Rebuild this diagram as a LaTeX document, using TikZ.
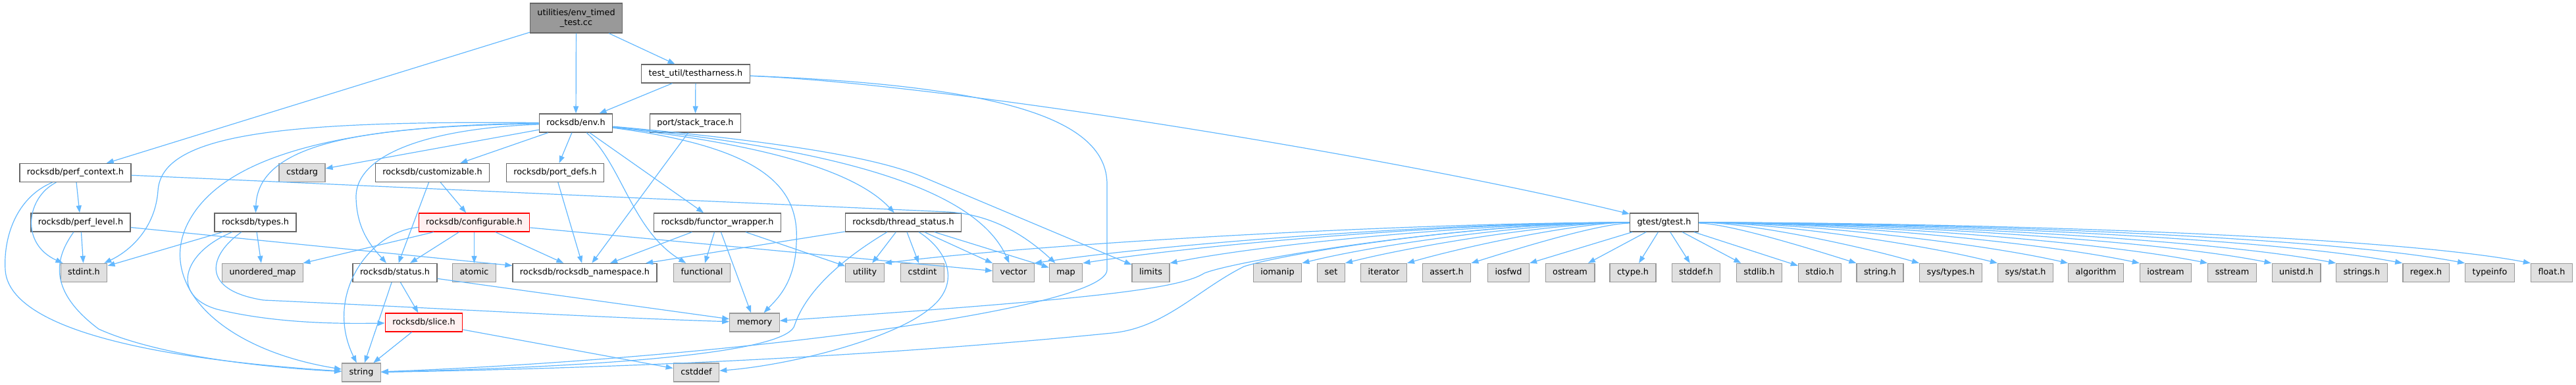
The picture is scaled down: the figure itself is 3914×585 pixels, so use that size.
\documentclass[tikz,border=0pt]{standalone}
\usepackage{fontspec}
\setmainfont{DejaVu Sans}
\usepackage{tikz}
\usetikzlibrary{arrows.meta}
\definecolor{colorEdge}{HTML}{63B8FF}
\definecolor{colorLeaf}{HTML}{E0E0E0}
\definecolor{colorLeafBorder}{HTML}{999999}
\definecolor{colorFileBorder}{HTML}{666666}
\definecolor{colorRoot}{HTML}{999999}
\definecolor{colorTrunc}{HTML}{FFF0F0}
\definecolor{colorTruncBorder}{HTML}{FF0000}
\tikzset{
  file/.style={draw=colorFileBorder, fill=white, line width=1.3pt, inner xsep=11pt, inner ysep=0pt, minimum height=28pt, text height=9.5pt, text depth=3pt},
  leaf/.style={file, draw=colorLeafBorder, fill=colorLeaf},
  trunc/.style={file, draw=colorTruncBorder, fill=colorTrunc},
  rootfile/.style={draw=colorFileBorder, fill=colorRoot, line width=1.3pt, inner xsep=11pt, minimum height=45pt, align=center},
  inc/.style={->, draw=colorEdge, line width=1.2pt}
}

\begin{document}
\begin{tikzpicture}[x=1pt, y=-1pt, >={Triangle[length=11pt,width=8pt]}, every node/.style={font=\fontsize{12.8}{15}\selectfont}]
\useasboundingbox (0,0) rectangle (3914,585);
\node[rootfile] (root) at (875.5,27.5) {utilities/env\_timed\\\_test.cc};
\node[file] (testh) at (1057,112) {test\_util/testharness.h};
\node[file] (envh) at (875,187) {rocksdb/env.h};
\node[file] (stack) at (1056.5,187) {port/stack\_trace.h};
\node[file] (perfctx) at (114.5,262.5) {rocksdb/perf\_context.h};
\node[leaf] (cstdarg) at (459,262.5) {cstdarg};
\node[file] (custom) at (657,262.5) {rocksdb/customizable.h};
\node[file] (portdefs) at (843.5,262.5) {rocksdb/port\_defs.h};
\node[file] (perflvl) at (122.5,338) {rocksdb/perf\_level.h};
\node[file] (types) at (388,338) {rocksdb/types.h};
\node[trunc] (config) at (720.5,338) {rocksdb/configurable.h};
\node[file] (functor) at (1090,338) {rocksdb/functor\_wrapper.h};
\node[file] (thread) at (1372.5,338) {rocksdb/thread\_status.h};
\node[file] (gtest) at (2528.5,338) {gtest/gtest.h};
\node[leaf] (stdint) at (127.5,414.5) {stdint.h};
\node[leaf] (umap) at (399,414.5) {unordered\_map};
\node[file] (status) at (600,414.5) {rocksdb/status.h};
\node[leaf] (atomic) at (720.5,414.5) {atomic};
\node[file] (nsp) at (888.5,414.5) {rocksdb/rocksdb\_namespace.h};
\node[leaf] (functional) at (1066.5,414.5) {functional};
\node[leaf] (utility) at (1314,414.5) {utility};
\node[leaf] (cstdint) at (1401.5,414.5) {cstdint};
\node[leaf] (vector) at (1540,414.5) {vector};
\node[leaf] (map) at (1619.5,414.5) {map};
\node[leaf] (limits) at (1748.5,414.5) {limits};
\node[leaf] (iomanip) at (1941,414.5) {iomanip};
\node[leaf] (set) at (2022.5,414.5) {set};
\node[leaf] (iterator) at (2102.5,414.5) {iterator};
\node[leaf] (asserth) at (2198,414.5) {assert.h};
\node[leaf] (iosfwd) at (2292,414.5) {iosfwd};
\node[leaf] (ostream) at (2385.5,414.5) {ostream};
\node[leaf] (ctypeh) at (2481,414.5) {ctype.h};
\node[leaf] (stddefh) at (2577,414.5) {stddef.h};
\node[leaf] (stdlibh) at (2673,414.5) {stdlib.h};
\node[leaf] (stdioh) at (2765,414.5) {stdio.h};
\node[leaf] (stringh) at (2856.5,414.5) {string.h};
\node[leaf] (systypes) at (2964,414.5) {sys/types.h};
\node[leaf] (sysstat) at (3077.5,414.5) {sys/stat.h};
\node[leaf] (algorithm) at (3184.5,414.5) {algorithm};
\node[leaf] (iostream) at (3290.5,414.5) {iostream};
\node[leaf] (sstream) at (3391.5,414.5) {sstream};
\node[leaf] (unistdh) at (3489,414.5) {unistd.h};
\node[leaf] (stringsh) at (3588.5,414.5) {strings.h};
\node[leaf] (regexh) at (3686,414.5) {regex.h};
\node[leaf] (typeinfo) at (3783,414.5) {typeinfo};
\node[leaf] (floath) at (3877,414.5) {float.h};
\node[trunc] (slice) at (644,490) {rocksdb/slice.h};
\node[leaf] (memory) at (1146.5,490) {memory};
\node[leaf] (string) at (549,566) {string};
\node[leaf] (cstddef) at (1058,566) {cstddef};

\draw[inc] (root) -- (perfctx);
\draw[inc] (root) -- (envh);
\draw[inc] (root) -- (testh);
\draw[inc] (testh) -- (envh);
\draw[inc] (testh) -- (stack);
\draw[inc] (testh) .. controls (1450,128) and (2150,245) .. (gtest);
\draw[inc] (testh) .. controls (1520,130) and (1682,180) .. (1682,280) -- (1682,410) .. controls (1682,470) and (1100,545) .. (string);
\draw[inc] (stack) -- (nsp);
\draw[inc] (envh) -- (custom);
\draw[inc] (envh) -- (portdefs);
\draw[inc] (envh) -- (cstdarg);
\draw[inc] (envh) -- (functor);
\draw[inc] (envh) .. controls (1120,215) and (1290,250) .. (thread);
\draw[inc] (envh) .. controls (1250,225) and (1480,280) .. (vector);
\draw[inc] (envh) .. controls (1150,212) and (1320,235) .. (1400,268) -- (limits);
\draw[inc] (envh) .. controls (1170,225) and (1215,290) .. (1210,370) .. controls (1208,430) and (1180,455) .. (memory);
\draw[inc] (envh) .. controls (945,250) and (960,350) .. (functional);
\draw[inc] (envh) .. controls (650,195) and (540,235) .. (541,300) .. controls (542,350) and (565,375) .. (status);
\draw[inc] (envh) .. controls (560,192) and (392,215) .. (types);
\draw[inc] (envh) .. controls (420,183) and (245,205) .. (240,290) .. controls (236,345) and (200,380) .. (stdint);
\draw[inc] (envh) .. controls (480,190) and (330,250) .. (285,340) .. controls (240,430) and (330,530) .. (string);
\draw[inc] (perfctx) -- (perflvl);
\draw[inc] (perfctx) .. controls (40,300) and (30,370) .. (stdint);
\draw[inc] (perfctx) .. controls (25,300) and (5,360) .. (8,410) .. controls (12,480) and (150,540) .. (string);
\draw[inc] (perfctx) -- (1440,322) .. controls (1510,326) and (1560,360) .. (map);
\draw[inc] (perflvl) -- (stdint);
\draw[inc] (perflvl) .. controls (85,390) and (70,440) .. (150,500) .. controls (250,545) and (430,560) .. (string);
\draw[inc] (perflvl) -- (nsp);
\draw[inc] (types) -- (stdint);
\draw[inc] (types) -- (umap);
\draw[inc] (types) .. controls (275,385) and (260,450) .. (330,470) .. controls (420,492) and (520,492) .. (slice);
\draw[inc] (types) .. controls (320,385) and (300,440) .. (400,456) .. controls (700,470) and (900,482) .. (memory);
\draw[inc] (config) .. controls (560,352) and (492,450) .. (string);
\draw[inc] (config) -- (umap);
\draw[inc] (config) -- (status);
\draw[inc] (config) -- (atomic);
\draw[inc] (config) -- (nsp);
\draw[inc] (config) -- (vector);
\draw[inc] (custom) -- (config);
\draw[inc] (custom) -- (status);
\draw[inc] (portdefs) -- (nsp);
\draw[inc] (status) -- (string);
\draw[inc] (status) -- (slice);
\draw[inc] (status) -- (memory);
\draw[inc] (slice) -- (string);
\draw[inc] (slice) -- (cstddef);
\draw[inc] (functor) -- (nsp);
\draw[inc] (functor) -- (functional);
\draw[inc] (functor) -- (memory);
\draw[inc] (functor) -- (utility);
\draw[inc] (thread) -- (nsp);
\draw[inc] (thread) -- (utility);
\draw[inc] (thread) -- (cstdint);
\draw[inc] (thread) -- (vector);
\draw[inc] (thread) -- (map);
\draw[inc] (thread) .. controls (1285,390) and (1225,440) .. (1207,495) .. controls (1190,545) and (800,560) .. (string);
\draw[inc] (thread) .. controls (1440,380) and (1460,430) .. (1415,467) .. controls (1360,515) and (1200,555) .. (cstddef);
\draw[inc] (gtest) .. controls +(-280,0) and (1950,385) .. (1890,405) .. controls (1820,440) and (1770,498) .. (1690,506) .. controls (1300,545) and (900,560) .. (string);
\draw[inc] (gtest) .. controls +(-300,0) and (1880,395) .. (1830,415) .. controls (1790,440) and (1650,455) .. (memory);
\draw[inc] (gtest) .. controls +(-380,0) and +(240,-30) .. (utility.north east);
\draw[inc] (gtest) .. controls +(-330,0) and +(200,-30) .. (vector.north east);
\draw[inc] (gtest) .. controls +(-300,0) and +(190,-30) .. (map.north east);
\draw[inc] (gtest) .. controls +(-250,0) and +(160,-32) .. (limits.north east);
\draw[inc] (gtest) .. controls +(-190,0) and +(120,-30) .. (iomanip.north east);
\draw[inc] (gtest) .. controls +(-160,0) and +(110,-28) .. (set.north east);
\draw[inc] (gtest) .. controls +(-130,0) and +(90,-26) .. (iterator.north east);
\draw[inc] (gtest) .. controls +(-100,2) and +(70,-22) .. (asserth.north east);
\draw[inc] (gtest) -- (iosfwd.north east);
\draw[inc] (gtest) -- (ostream);
\draw[inc] (gtest) -- (ctypeh);
\draw[inc] (gtest) -- (stddefh);
\draw[inc] (gtest) -- (stdlibh);
\draw[inc] (gtest) -- (stdioh);
\draw[inc] (gtest) .. controls +(100,2) and +(-70,-22) .. (stringh.north west);
\draw[inc] (gtest) .. controls +(130,0) and +(-90,-26) .. (systypes.north west);
\draw[inc] (gtest) .. controls +(170,0) and +(-110,-28) .. (sysstat.north west);
\draw[inc] (gtest) .. controls +(210,0) and +(-130,-30) .. (algorithm.north west);
\draw[inc] (gtest) .. controls +(250,0) and +(-150,-32) .. (iostream.north west);
\draw[inc] (gtest) .. controls +(280,0) and +(-170,-34) .. (sstream.north west);
\draw[inc] (gtest) .. controls +(310,0) and +(-180,-36) .. (unistdh.north west);
\draw[inc] (gtest) .. controls +(340,0) and +(-200,-38) .. (stringsh.north west);
\draw[inc] (gtest) .. controls +(370,0) and +(-210,-40) .. (regexh.north west);
\draw[inc] (gtest) .. controls +(400,0) and +(-220,-42) .. (typeinfo.north west);
\draw[inc] (gtest) .. controls +(430,0) and +(-230,-44) .. (floath.north west);
\end{tikzpicture}
\end{document}
